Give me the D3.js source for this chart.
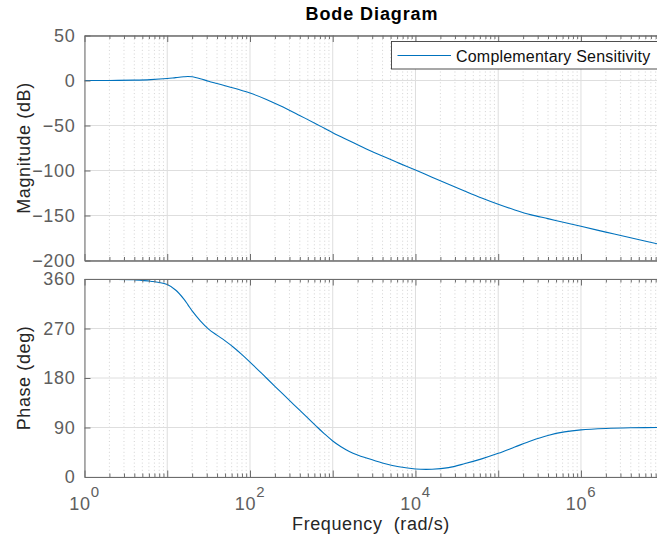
<!DOCTYPE html>
<html>
<head>
<meta charset="utf-8">
<script src="https://cdn.jsdelivr.net/npm/d3@7"></script>
<style>
  html, body { margin: 0; padding: 0; background: #fff; overflow: hidden; }
  svg { display: block; font-family: "Liberation Sans", Arial, Helvetica, sans-serif; }
</style>
</head>
<body>
<svg id="chart" width="657" height="542"></svg>
<script>
// Frequency grid (rad/s) shared by both traces
const freq = [1, 2, 3.98, 6.31, 10, 12.6, 15.8, 17.8, 20, 25.1, 31.6, 39.8, 50.1, 63.1, 79.4, 100,
  158, 251, 398, 631, 794, 1000, 1259, 1585, 1995, 2512, 3981, 6310, 1e4, 1.585e4, 2.512e4,
  3.981e4, 6.31e4, 1e5, 1.585e5, 2.512e5, 3.981e5, 6.31e5, 1e6, 2e6, 3.98e6, 1e7];

// Magnitude of the complementary sensitivity (dB)
const magDb = [0, 0.05, 0.4, 1.0, 2.2, 3.2, 4.1, 4.4, 4.1, 2.0, -0.8, -3.3, -5.8, -8.4, -11.1, -14,
  -21, -29.5, -38.8, -48.3, -53.1, -58, -62.5, -67, -71.4, -75.8, -84, -91.8, -99.5, -107.5, -115.3,
  -123, -130.5, -137.5, -143.8, -149.3, -153.5, -157.8, -162, -168.5, -174.8, -183];

// Phase of the complementary sensitivity (deg)
const phaseDeg = [360, 359.8, 358.5, 356, 350, 340, 324, 313, 302, 284, 269, 258, 247.5, 236, 223, 209,
  180, 150.5, 121.5, 92.5, 78.5, 65.5, 55, 46.5, 40, 34.8, 25.5, 18.5, 14.5, 14, 17,
  24.5, 33, 43, 54.5, 66, 75.5, 82, 85.7, 88.3, 89.5, 90];

const magTicks = [50, 0, -50, -100, -150, -200];
const phaseTicks = [0, 90, 180, 270, 360];
const freqDecades = [0, 1, 2, 3, 4, 5, 6, 7];
const freqLabelExps = [0, 2, 4, 6];

const titleText = "Bode Diagram";
const magLabel = "Magnitude (dB)";
const phaseLabel = "Phase (deg)";
const freqLabel = "Frequency  (rad/s)";
const seriesName = "Complementary Sensitivity";

const lineColor = "#0072bd";
const axisColor = "#6c6c6c";
const tickTextColor = "#5e5e5e";

const svg = d3.select("#chart");

const x = d3.scaleLog().domain([1, 1e7]).range([84.5, 663.7]);
const yMag = d3.scaleLinear().domain([-200, 50]).range([260.5, 35.5]);
const yPh = d3.scaleLinear().domain([0, 360]).range([477, 279]);

const majorVals = freqDecades.map(e => Math.pow(10, e));
const minorVals = [];
freqDecades.slice(0, -1).forEach(e => {
  for (let k = 2; k <= 9; k++) minorVals.push(k * Math.pow(10, e));
});

function drawPanel(id, y, yTickVals, values) {
  const [bottom, top] = y.range();
  const [left, right] = x.range();
  const g = svg.append("g");

  svg.append("clipPath").attr("id", id)
    .append("rect").attr("x", left).attr("y", top)
    .attr("width", right - left).attr("height", bottom - top);

  // minor vertical grid (dotted)
  g.append("g").selectAll("line").data(minorVals).join("line")
    .attr("x1", d => x(d)).attr("x2", d => x(d))
    .attr("y1", top).attr("y2", bottom)
    .attr("stroke", "#c8c8c8").attr("stroke-width", 0.8)
    .attr("stroke-dasharray", "1,2.6");

  // major vertical grid
  g.append("g").selectAll("line").data(majorVals).join("line")
    .attr("x1", d => x(d)).attr("x2", d => x(d))
    .attr("y1", top).attr("y2", bottom)
    .attr("stroke", "#dedede").attr("stroke-width", 1);

  // major horizontal grid
  g.append("g").selectAll("line").data(yTickVals).join("line")
    .attr("x1", left).attr("x2", right)
    .attr("y1", d => y(d)).attr("y2", d => y(d))
    .attr("stroke", "#dedede").attr("stroke-width", 1);

  // trace
  const line = d3.line()
    .x((d, i) => x(freq[i]))
    .y(d => y(d))
    .curve(d3.curveCatmullRom.alpha(0.5));
  g.append("path").datum(values)
    .attr("clip-path", `url(#${id})`)
    .attr("d", line)
    .attr("fill", "none").attr("stroke", lineColor).attr("stroke-width", 1.1);

  // box with inward ticks
  const styleAxis = sel => {
    sel.selectAll("path.domain").attr("stroke", axisColor).attr("stroke-width", 1);
    sel.selectAll(".tick line").attr("stroke", axisColor).attr("stroke-width", 1);
  };
  [["bottom", bottom], ["top", top]].forEach(([side, pos]) => {
    const mk = side === "bottom" ? d3.axisBottom : d3.axisTop;
    svg.append("g").attr("transform", `translate(0,${pos})`)
      .call(mk(x).tickValues(minorVals).tickSize(-3.5).tickSizeOuter(0).tickFormat(""))
      .call(styleAxis);
    svg.append("g").attr("transform", `translate(0,${pos})`)
      .call(mk(x).tickValues(majorVals).tickSize(-6.5).tickSizeOuter(0).tickFormat(""))
      .call(styleAxis);
  });

  const yAxis = svg.append("g").attr("transform", `translate(${left},0)`)
    .call(d3.axisLeft(y).tickValues(yTickVals).tickSize(-6).tickSizeOuter(0).tickPadding(9))
    .call(styleAxis);
  yAxis.selectAll("text")
    .attr("font-family", "Liberation Sans, Arial, sans-serif")
    .attr("font-size", 18).attr("letter-spacing", 0.7)
    .attr("fill", tickTextColor);
  yAxis.attr("font-size", null).attr("font-family", null);
}

drawPanel("clipMag", yMag, magTicks, magDb);
drawPanel("clipPh", yPh, phaseTicks, phaseDeg);

// frequency tick labels with superscript exponents
const xl = svg.append("g").attr("fill", tickTextColor).attr("font-size", 18).attr("letter-spacing", 0.7);
freqLabelExps.forEach(e => {
  const t = xl.append("text")
    .attr("x", x(Math.pow(10, e))).attr("y", 510)
    .attr("text-anchor", "middle");
  t.append("tspan").text("10");
  t.append("tspan").attr("dy", -13).attr("font-size", 15).text(e);
});

// title and axis labels
svg.append("text").attr("x", 372).attr("y", 20)
  .attr("text-anchor", "middle").attr("font-weight", "bold")
  .attr("font-size", 18).attr("letter-spacing", 0.9).attr("fill", "#000")
  .text(titleText);

svg.append("text")
  .attr("transform", `translate(30,${(yMag.range()[0] + yMag.range()[1]) / 2}) rotate(-90)`)
  .attr("text-anchor", "middle").attr("font-size", 18).attr("letter-spacing", 0.6)
  .attr("fill", "#262626").text(magLabel);

svg.append("text")
  .attr("transform", `translate(30,${(yPh.range()[0] + yPh.range()[1]) / 2}) rotate(-90)`)
  .attr("text-anchor", "middle").attr("font-size", 18).attr("letter-spacing", 0.6)
  .attr("fill", "#262626").text(phaseLabel);

svg.append("text").attr("x", 371).attr("y", 530)
  .attr("text-anchor", "middle").attr("font-size", 18).attr("letter-spacing", 0.6)
  .attr("fill", "#262626").style("white-space", "pre").text(freqLabel);

// legend
const lg = svg.append("g");
lg.append("rect").attr("x", 391.5).attr("y", 41.5).attr("width", 300).attr("height", 27.5)
  .attr("fill", "#fff").attr("stroke", "#3c3c3c").attr("stroke-width", 0.9);
lg.append("line").attr("x1", 397.5).attr("x2", 451).attr("y1", 55.5).attr("y2", 55.5)
  .attr("stroke", lineColor).attr("stroke-width", 1.2);
lg.append("text").attr("x", 456).attr("y", 61.5)
  .attr("font-size", 16).attr("letter-spacing", 0.2).attr("fill", "#111")
  .text(seriesName);
</script>
</body>
</html>
